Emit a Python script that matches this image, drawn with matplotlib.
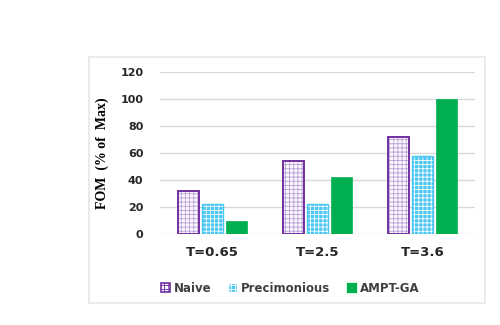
import numpy as np
import matplotlib.pyplot as plt
from matplotlib.patches import Rectangle, Patch

# data
categories = ["T=0.65", "T=2.5", "T=3.6"]
naive = [32, 54, 72]
precimonious = [22, 22, 58]
ampt_ga = [10, 42, 100]
series_names = ["Naive", "Precimonious", "AMPT-GA"]

plt.rcParams['hatch.linewidth'] = 0.6

fig = plt.figure(figsize=(5, 3.25), dpi=100)
fig.patches.append(Rectangle((89 / 500, 1 - 303 / 325), (485 - 89) / 500, (303 - 57) / 325,
                             transform=fig.transFigure, fill=False,
                             edgecolor="#e6e6e6", linewidth=1.2))

ax = fig.add_axes([0.32, 0.28, 0.63, 0.498])

x = np.arange(len(categories))
w = 0.2
gap = 0.03

purple = "#7030a0"
light_purple = "#b7a0d6"
blue = "#4cc6f2"
green = "#00b050"

# Naive: pale fill with light purple pattern, dark outline
ax.bar(x - w - gap, naive, w, color="#fbf8fd", edgecolor=light_purple, hatch="++++",
       linewidth=0, zorder=3)
ax.bar(x - w - gap, naive, w, fill=False, edgecolor=purple, linewidth=1.4, zorder=4)
# Precimonious: blue fill with white dots
ax.bar(x, precimonious, w, color=blue, edgecolor="white", hatch="++++",
       linewidth=0, zorder=3)
ax.bar(x, precimonious, w, fill=False, edgecolor=blue, linewidth=1.0, zorder=4)
# AMPT-GA: solid green
ax.bar(x + w + gap, ampt_ga, w, color=green, edgecolor=green, linewidth=0.5, zorder=3)

ax.set_ylim(0, 120)
ax.set_yticks(range(0, 121, 20))
ax.set_xlim(-0.5, len(categories) - 0.5)
ax.set_xticks(x)
ax.set_xticklabels(categories, fontsize=9.5, fontweight="bold", color="#262626")
for lbl in ax.get_yticklabels():
    lbl.set_fontsize(8)
    lbl.set_fontweight("bold")
    lbl.set_color("#262626")
ax.tick_params(length=0)
ax.tick_params(axis="x", pad=9)
ax.tick_params(axis="y", pad=12)
ax.grid(axis="y", color="#d9d9d9", linewidth=1, zorder=0)
for s in ax.spines.values():
    s.set_visible(False)

ax.set_ylabel("FOM  (% of  Max)", family="Liberation Serif", fontweight="bold",
              fontsize=10, labelpad=8)

handles = [
    Patch(facecolor="#fbf8fd", edgecolor=purple, hatch="++++", linewidth=1.2),
    Patch(facecolor=blue, edgecolor="white", hatch="++++"),
    Patch(facecolor=green, edgecolor=green),
]
fig.legend(handles, series_names, loc="center", bbox_to_anchor=(0.58, 1 - 288 / 325),
           ncol=3, frameon=False, handlelength=0.8, handleheight=0.8,
           handletextpad=0.3, columnspacing=1.4,
           prop={"weight": "bold", "size": 8.5})
for t in fig.legends[0].get_texts():
    t.set_color("#404040")

fig.savefig("out.png", dpi=100)
